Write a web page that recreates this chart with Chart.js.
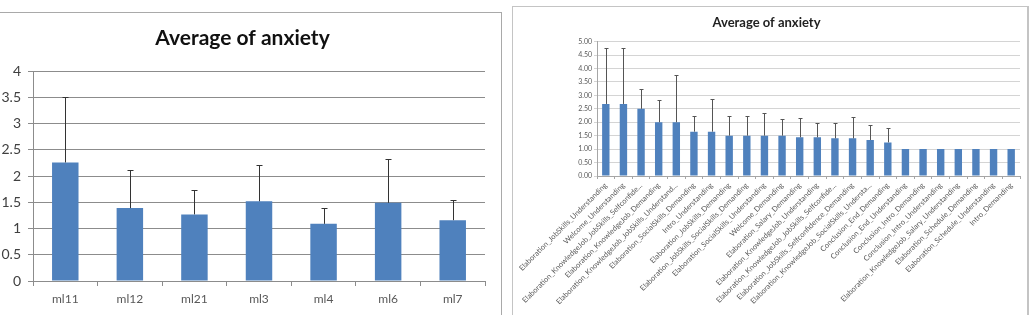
<!DOCTYPE html>
<html>
<head>
<meta charset="utf-8" />
<script src="https://cdn.jsdelivr.net/npm/chart.js@4.4.0/dist/chart.umd.min.js"></script>
<style>
  html, body { margin: 0; padding: 0; background: #fff; }
  body { width: 1033px; height: 315px; position: relative; overflow: hidden; }
  .panel { position: absolute; }
  #leftFrame { left: 0; top: 12px; width: 501px; height: 310px; border-top: 1px solid #a9a9a9; border-right: 1px solid #a9a9a9; }
  #rightFrame { left: 512px; top: 6px; width: 514px; height: 320px; border: 1px solid #c4c4c4; border-right: 2px solid #c4c4c4; }
  #leftBox { left: 0; top: 13px; width: 500px; height: 302px; }
  #rightBox { left: 513px; top: 7px; width: 514px; height: 308px; }
</style>
</head>
<body>
<div class="panel" id="leftFrame"></div>
<div class="panel" id="rightFrame"></div>
<div class="panel" id="leftBox"><canvas id="leftChart"></canvas></div>
<div class="panel" id="rightBox"><canvas id="rightChart"></canvas></div>
<script>
const chartTitle = 'Average of anxiety';

// left chart: by module
const moduleLabels = ['ml11', 'ml12', 'ml21', 'ml3', 'ml4', 'ml6', 'ml7'];
const moduleMeans = [2.26, 1.39, 1.27, 1.52, 1.09, 1.49, 1.16];
const moduleErrTops = [3.51, 2.11, 1.73, 2.22, 1.40, 2.32, 1.54];

// right chart: by segment
const segmentLabels = [
  'Elaboration_JobSkills_Understanding',
  'Welcome_Understanding',
  'Elaboration_KnowledgeJob_JobSkills_Selfconfide...',
  'Elaboration_KnowledgeJob_Demanding',
  'Elaboration_KnowledgeJob_JobSkills_Understand...',
  'Elaboration_SocialSkills_Demanding',
  'Intro_Understanding',
  'Elaboration_JobSkills_Demanding',
  'Elaboration_JobSkills_SocialSkills_Demanding',
  'Elaboration_SocialSkills_Understanding',
  'Welcome_Demanding',
  'Elaboration_Salary_Demanding',
  'Elaboration_KnowledgeJob_Understanding',
  'Elaboration_KnowledgeJob_JobSkills_Selfconfide...',
  'Elaboration_JobSkills_Selfconfidence_Demanding',
  'Elaboration_KnowledgeJob_SocialSkills_Understa...',
  'Conclusion_End_Demanding',
  'Conclusion_End_Understanding',
  'Conclusion_Intro_Demanding',
  'Conclusion_Intro_Understanding',
  'Elaboration_KnowledgeJob_Salary_Understanding',
  'Elaboration_Schedule_Demanding',
  'Elaboration_Schedule_Understanding',
  'Intro_Demanding',
];
const segmentMeans = [2.68, 2.68, 2.50, 2.00, 2.00, 1.65, 1.65, 1.50, 1.50, 1.50, 1.50, 1.44,
  1.44, 1.40, 1.40, 1.34, 1.25, 1.00, 1.00, 1.00, 1.00, 1.00, 1.00, 1.00];
const segmentErrTops = [4.77, 4.77, 3.25, 2.81, 3.77, 2.24, 2.86, 2.24, 2.24, 2.36, 2.11, 2.15,
  1.96, 1.96, 2.19, 1.90, 1.80, null, null, null, null, null, null, null];

const barBlue = '#4f81bd';

// plus-only error bars, placed with the y scale
const errorBars = {
  id: 'errorBars',
  afterDatasetsDraw(chart, args, opts) {
    const { ctx } = chart;
    const yScale = chart.scales.y;
    const meta = chart.getDatasetMeta(0);
    ctx.save();
    ctx.strokeStyle = opts.color;
    ctx.lineWidth = opts.lineWidth;
    meta.data.forEach((bar, i) => {
      const top = opts.tops[i];
      if (top == null) return;
      const x = Math.round(bar.x) + 0.5;
      const yTop = Math.round(yScale.getPixelForValue(top)) + 0.5;
      ctx.beginPath();
      ctx.moveTo(x, bar.y);
      ctx.lineTo(x, yTop);
      ctx.moveTo(x - opts.cap, yTop);
      ctx.lineTo(x + opts.cap, yTop);
      ctx.stroke();
    });
    ctx.restore();
  },
};

function leftChart() {
  new Chart(document.getElementById('leftChart'), {
    type: 'bar',
    data: {
      labels: moduleLabels,
      datasets: [{ data: moduleMeans, backgroundColor: barBlue, categoryPercentage: 1, barPercentage: 0.41 }],
    },
    plugins: [errorBars],
    options: {
      responsive: true,
      maintainAspectRatio: false,
      animation: false,
      layout: { padding: { left: 0, right: 15, top: 0, bottom: 0 } },
      plugins: {
        legend: { display: false },
        tooltip: { enabled: false },
        title: {
          display: true,
          text: chartTitle,
          color: '#111',
          font: { family: 'Lato', size: 21, weight: 'bold' },
          padding: { top: 13, bottom: 20 },
        },
        errorBars: { tops: moduleErrTops, color: '#333', lineWidth: 1, cap: 3 },
      },
      scales: {
        x: {
          afterFit: (scale) => { scale.height = 34; },
          grid: { drawOnChartArea: false, drawTicks: true, tickLength: 5, color: '#8c8c8c' },
          border: { color: '#8c8c8c' },
          ticks: { color: '#595959', font: { family: 'Lato', size: 12 }, padding: 6 },
        },
        y: {
          min: 0,
          max: 4,
          afterFit: (scale) => { scale.width = 33; },
          grid: { color: '#8c8c8c', tickLength: 5 },
          border: { color: '#8c8c8c' },
          ticks: {
            stepSize: 0.5,
            color: '#404040',
            font: { family: 'Lato', size: 14 },
            padding: 7,
            callback: (v) => `${Number(v)}`,
          },
        },
      },
    },
  });
}

function rightChart() {
  new Chart(document.getElementById('rightChart'), {
    type: 'bar',
    data: {
      labels: segmentLabels,
      datasets: [{ data: segmentMeans, backgroundColor: barBlue, categoryPercentage: 1, barPercentage: 0.42 }],
    },
    plugins: [errorBars],
    options: {
      responsive: true,
      maintainAspectRatio: false,
      animation: false,
      layout: { padding: { left: 0, right: 7, top: 0, bottom: 0 } },
      plugins: {
        legend: { display: false },
        tooltip: { enabled: false },
        title: {
          display: true,
          text: chartTitle,
          color: '#222',
          font: { family: 'Lato', size: 13, weight: 'bold' },
          padding: { top: 8, bottom: 11 },
        },
        errorBars: { tops: segmentErrTops, color: '#555', lineWidth: 1, cap: 2 },
      },
      scales: {
        x: {
          afterFit: (scale) => {
            scale.height = 139;
            scale.paddingLeft = 0;
            scale.paddingRight = 0;
          },
          grid: { drawOnChartArea: false, drawTicks: true, tickLength: 3, color: '#a6a6a6' },
          border: { color: '#a6a6a6' },
          ticks: {
            autoSkip: false,
            minRotation: 45,
            maxRotation: 45,
            color: '#595959',
            font: { family: 'Lato', size: 7.5 },
            padding: 2,
          },
        },
        y: {
          min: 0,
          max: 5,
          afterFit: (scale) => { scale.width = 84; },
          grid: { color: '#d4d4d4', tickLength: 3 },
          border: { color: '#a6a6a6' },
          ticks: {
            stepSize: 0.5,
            color: '#595959',
            font: { family: 'Lato', size: 7 },
            padding: 2,
            callback: (v) => Number(v).toFixed(2),
          },
        },
      },
    },
  });
}

leftChart();
rightChart();
</script>
</body>
</html>
